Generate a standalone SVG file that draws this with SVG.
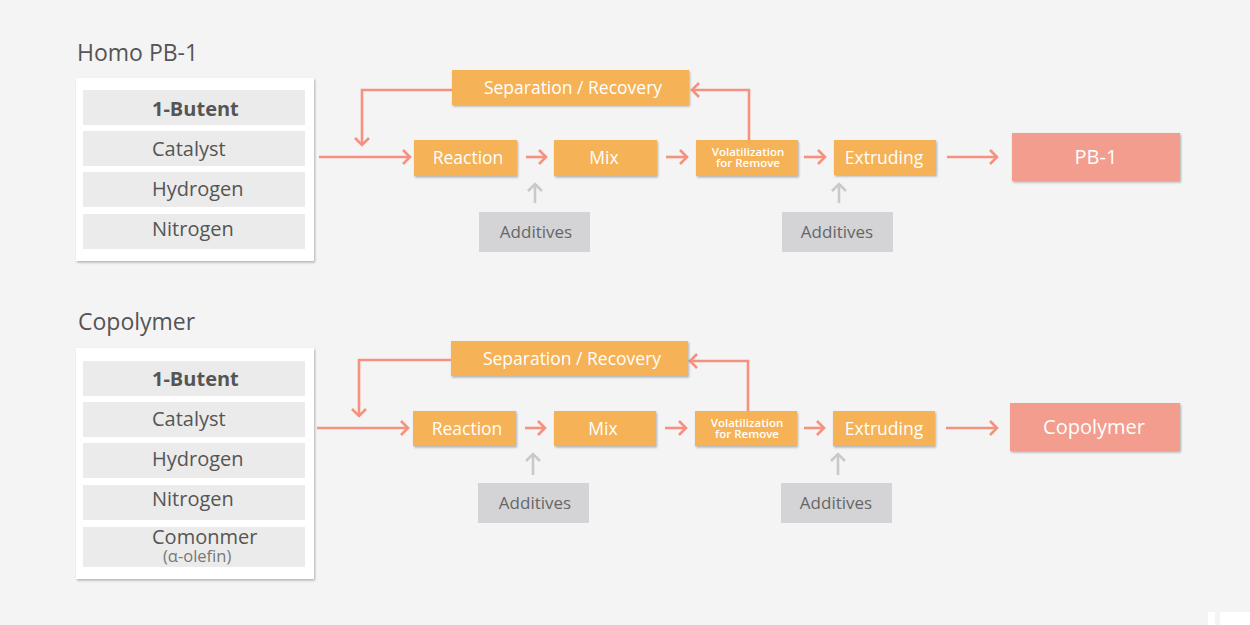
<svg xmlns="http://www.w3.org/2000/svg" width="1250" height="625" viewBox="0 0 1250 625">
<style>
text{font-family:"Open Sans","Noto Sans","Liberation Sans",sans-serif}
.title{font-size:23px;fill:#555}
.panel{fill:#fff}
.row{fill:#ebebeb}
.rt{font-size:20px;fill:#555}
.rb{font-size:20px;fill:#555;font-weight:700}
.sub{font-size:16.5px;fill:#777}
.ob{fill:#f5b256}
.ot{font-size:17.5px;fill:#fff;text-anchor:middle}
.vt{font-size:11.5px;fill:#fff;font-weight:600;text-anchor:middle}
.pb{fill:#f29d8d}
.pt{font-size:20px;fill:#fff;text-anchor:middle}
.gb{fill:#d4d4d6}
.gt{font-size:17px;fill:#666;text-anchor:middle}
.ln{fill:none;stroke:#f7917f;stroke-width:2.6;marker-end:url(#ah)}
.gl{fill:none;stroke:#c9c9c9;stroke-width:2.6;marker-end:url(#gh)}
</style>
<defs>
<filter id="sh" x="-10%" y="-20%" width="125%" height="150%">
<feDropShadow dx="1" dy="1.5" stdDeviation="0.8" flood-color="#000" flood-opacity="0.28"/>
</filter>
<marker id="ah" viewBox="-10 -10 12 20" markerWidth="12" markerHeight="20" refX="0" refY="0" orient="auto" markerUnits="userSpaceOnUse">
<path d="M-7,-7 L0,0 L-7,7" fill="none" stroke="#f7917f" stroke-width="2.6"/>
</marker>
<marker id="gh" viewBox="-10 -10 12 20" markerWidth="12" markerHeight="20" refX="0" refY="0" orient="auto" markerUnits="userSpaceOnUse">
<path d="M-7,-7 L0,0 L-7,7" fill="none" stroke="#c9c9c9" stroke-width="2.6"/>
</marker>
</defs>
<rect width="1250" height="625" fill="#f4f4f4"/>
<rect x="1208" y="612" width="7" height="13" fill="#fff"/>
<rect x="1220" y="612" width="30" height="13" fill="#fff"/>

<text class="title" x="77" y="61">Homo PB-1</text>
<text class="title" x="78" y="330">Copolymer</text>

<g id="connectors">
<path class="ln" d="M319,157 H410"/>
<path class="ln" d="M452,90 H362 V145"/>
<path class="ln" d="M526,157 H546"/>
<path class="ln" d="M666,157 H687"/>
<path class="ln" d="M804,157 H825"/>
<path class="ln" d="M947,157 H997"/>
<path class="ln" d="M749,140 V90 H692"/>
<path class="gl" d="M535,203 V184"/>
<path class="gl" d="M839,203 V184"/>

<path class="ln" d="M317,428 H408"/>
<path class="ln" d="M451,360 H359 V416"/>
<path class="ln" d="M525,428 H545"/>
<path class="ln" d="M665,428 H686"/>
<path class="ln" d="M804,428 H824"/>
<path class="ln" d="M946,428 H997"/>
<path class="ln" d="M748,411 V361 H690"/>
<path class="gl" d="M533,475 V454"/>
<path class="gl" d="M838,475 V454"/>
</g>

<g id="inputs1">
<rect class="panel" x="76" y="78" width="238" height="183" filter="url(#sh)"/>
<rect class="row" x="83" y="90" width="222" height="35"/>
<rect class="row" x="83" y="131" width="222" height="35"/>
<rect class="row" x="83" y="172" width="222" height="35"/>
<rect class="row" x="83" y="214" width="222" height="35"/>
<text class="rb" x="152" y="116">1-Butent</text>
<text class="rt" x="152" y="156">Catalyst</text>
<text class="rt" x="152" y="196">Hydrogen</text>
<text class="rt" x="152" y="236">Nitrogen</text>
</g>

<g id="sep1"><rect class="ob" x="452" y="70" width="237" height="35" filter="url(#sh)"/><text class="ot" x="573" y="93.5">Separation / Recovery</text></g>
<g id="reaction1"><rect class="ob" x="414" y="140" width="103" height="36" filter="url(#sh)"/><text class="ot" x="468" y="164">Reaction</text></g>
<g id="mix1"><rect class="ob" x="554" y="140" width="103" height="36" filter="url(#sh)"/><text class="ot" x="604" y="164">Mix</text></g>
<g id="vol1"><rect class="ob" x="696" y="140" width="102" height="36" filter="url(#sh)"/><text class="vt" x="748" y="155.5">Volatilization</text><text class="vt" x="748" y="167">for Remove</text></g>
<g id="extr1"><rect class="ob" x="834" y="140" width="102" height="35" filter="url(#sh)"/><text class="ot" x="884" y="163.5">Extruding</text></g>
<g id="pb1"><rect class="pb" x="1012" y="133" width="168" height="48" filter="url(#sh)"/><text class="pt" x="1096" y="164">PB-1</text></g>
<g id="add1a"><rect class="gb" x="479" y="212" width="111" height="40"/><text class="gt" x="536" y="238">Additives</text></g>
<g id="add1b"><rect class="gb" x="782" y="212" width="111" height="40"/><text class="gt" x="837" y="238">Additives</text></g>

<g id="inputs2">
<rect class="panel" x="76" y="348" width="238" height="231" filter="url(#sh)"/>
<rect class="row" x="83" y="361" width="222" height="35"/>
<rect class="row" x="83" y="402" width="222" height="35"/>
<rect class="row" x="83" y="443" width="222" height="35"/>
<rect class="row" x="83" y="485" width="222" height="35"/>
<rect class="row" x="83" y="527" width="222" height="40"/>
<text class="rb" x="152" y="386">1-Butent</text>
<text class="rt" x="152" y="426">Catalyst</text>
<text class="rt" x="152" y="466">Hydrogen</text>
<text class="rt" x="152" y="506">Nitrogen</text>
<text class="rt" x="152" y="544">Comonmer</text>
<text class="sub" x="163" y="562">(α-olefin)</text>
</g>

<g id="sep2"><rect class="ob" x="451" y="341" width="237" height="35" filter="url(#sh)"/><text class="ot" x="572" y="364.5">Separation / Recovery</text></g>
<g id="reaction2"><rect class="ob" x="413" y="411" width="103" height="35" filter="url(#sh)"/><text class="ot" x="467" y="434.5">Reaction</text></g>
<g id="mix2"><rect class="ob" x="554" y="411" width="102" height="35" filter="url(#sh)"/><text class="ot" x="603" y="434.5">Mix</text></g>
<g id="vol2"><rect class="ob" x="695" y="411" width="102" height="35" filter="url(#sh)"/><text class="vt" x="747" y="426.5">Volatilization</text><text class="vt" x="747" y="438">for Remove</text></g>
<g id="extr2"><rect class="ob" x="833" y="411" width="102" height="35" filter="url(#sh)"/><text class="ot" x="884" y="434.5">Extruding</text></g>
<g id="copoly"><rect class="pb" x="1010" y="403" width="170" height="48" filter="url(#sh)"/><text class="pt" x="1094" y="434">Copolymer</text></g>
<g id="add2a"><rect class="gb" x="478" y="483" width="111" height="40"/><text class="gt" x="535" y="509">Additives</text></g>
<g id="add2b"><rect class="gb" x="781" y="483" width="111" height="40"/><text class="gt" x="836" y="509">Additives</text></g>
</svg>
